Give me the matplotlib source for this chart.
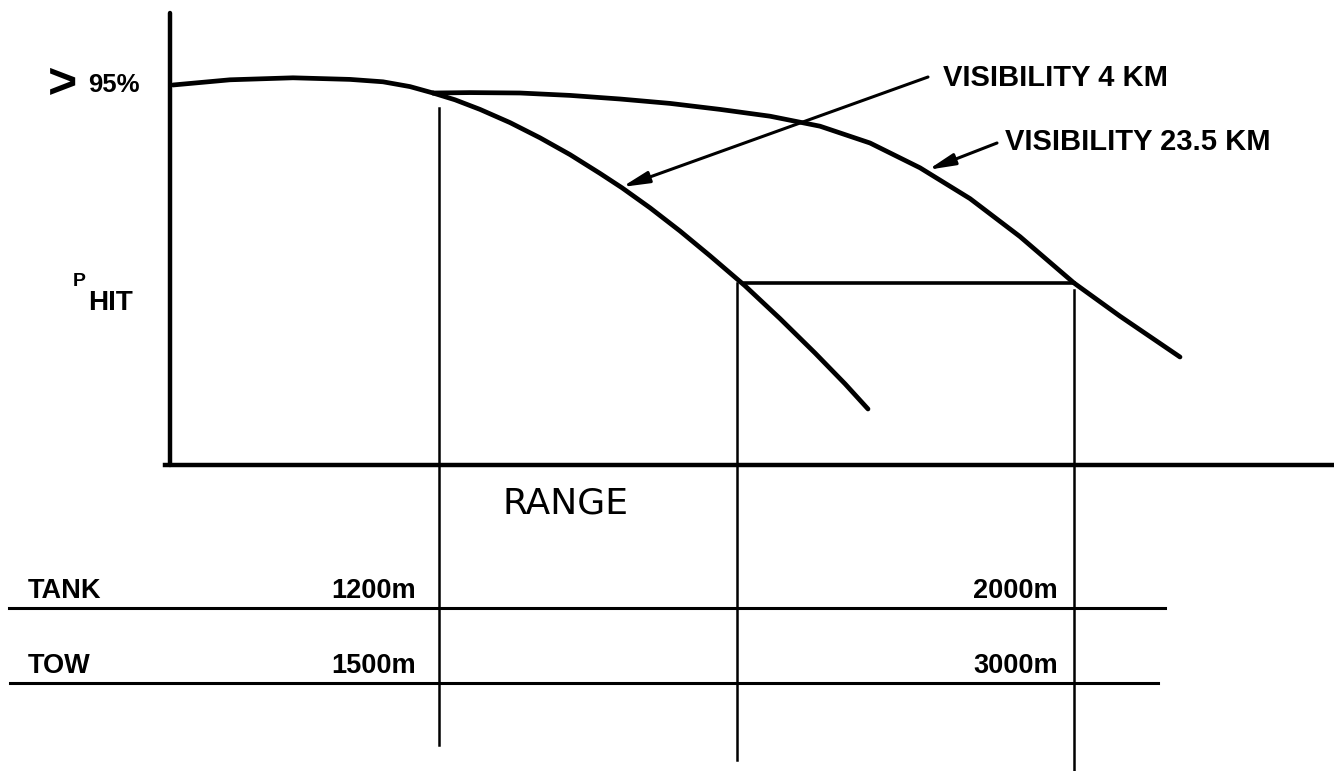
import numpy as np
import matplotlib.pyplot as plt

# -------------------------
# Daten (Reichweite in willkürlichen Einheiten, P_HIT in %)
# -------------------------

# gemeinsamer Anfang beider Kurven
shared_x = [0.03, 0.60, 1.23, 1.80, 2.13, 2.40, 2.63]
shared_y = [95.0, 96.3, 96.8, 96.4, 95.8, 94.6, 93.0]

# Sicht 4 km
vis4_x = [2.63, 2.85, 3.10, 3.40, 3.70, 4.00, 4.30, 4.52, 4.80, 5.10, 5.40, 5.75, 6.10, 6.45, 6.75, 6.98]
vis4_y = [93.0, 91.3, 88.9, 85.6, 81.8, 77.6, 72.9, 69.3, 64.3, 58.5, 52.3, 44.8, 36.6, 28.0, 20.3, 14.0]

# Sicht 23.5 km
vis23_x = [2.63, 3.00, 3.50, 4.00, 4.50, 5.00, 5.50, 6.00, 6.50, 7.00, 7.50, 8.00, 8.50, 9.04, 9.50, 10.10]
vis23_y = [93.0, 93.1, 93.0, 92.4, 91.5, 90.4, 88.9, 87.2, 84.7, 80.5, 74.3, 66.6, 57.1, 45.5, 37.2, 27.0]

p_hit_level = 45.5                  # waagerechte Linie bei P_HIT
range_marks = [2.69, 5.67, 9.04]    # senkrechte Linien
row_labels = ["TANK", "TOW"]
short_ranges = ["1200m", "1500m"]
long_ranges = ["2000m", "3000m"]

# -------------------------
# Zeichnung
# -------------------------

plt.rcParams["font.family"] = ["Liberation Sans", "DejaVu Sans"]

fig = plt.figure(figsize=(13.34, 7.71), dpi=100, facecolor="white")
ax = fig.add_axes([0, 0, 1, 1])
ax.set_xlim(-1.70, 11.64)
ax.set_ylim(-76.5, 116.25)
ax.axis("off")

ink = "black"
curve_style = dict(color=ink, lw=3.4, solid_capstyle="round", solid_joinstyle="round")

# Achsen
ax.plot([0, 0], [0, 113], color=ink, lw=3.2, solid_capstyle="round")
ax.plot([-0.05, 11.64], [0, 0], color=ink, lw=3.2)

# Kurven
ax.plot(shared_x, shared_y, **curve_style)
ax.plot(vis4_x, vis4_y, **curve_style)
ax.plot(vis23_x, vis23_y, **curve_style)

# Hilfslinien
ax.plot([5.75, range_marks[2]], [p_hit_level, p_hit_level], color=ink, lw=2.6)
ax.plot([range_marks[0], range_marks[0]], [89.2, -70.0], color=ink, lw=1.8)
ax.plot([range_marks[1], range_marks[1]], [p_hit_level, -73.8], color=ink, lw=1.8)
ax.plot([range_marks[2], range_marks[2]], [43.8, -76.5], color=ink, lw=1.8)

# Tabelle unten
row_y = [-35.8, -54.5]
ax.plot([-1.61, 9.95], [row_y[0], row_y[0]], color=ink, lw=2.2)
ax.plot([-1.60, 9.88], [row_y[1], row_y[1]], color=ink, lw=2.2)
for i in range(2):
    ax.text(-1.42, row_y[i] + 2.6, row_labels[i], fontsize=19.5, fontweight="bold", va="baseline")
    ax.text(2.46, row_y[i] + 2.6, short_ranges[i], fontsize=19.5, fontweight="bold", va="baseline", ha="right")
    ax.text(8.88, row_y[i] + 2.6, long_ranges[i], fontsize=19.5, fontweight="bold", va="baseline", ha="right")

# Beschriftungen
ax.text(3.95, -9.5, "RANGE", fontsize=26, family="DejaVu Sans", ha="center", va="center")
ax.text(-1.08, 95.0, ">", fontsize=36, fontweight="bold", ha="center", va="center")
ax.text(-0.82, 95.0, "95%", fontsize=18.5, fontweight="bold", ha="left", va="center")
ax.text(-0.97, 45.8, "P", fontsize=14, fontweight="bold", ha="left", va="center")
ax.text(-0.82, 40.6, "HIT", fontsize=20, fontweight="bold", ha="left", va="center")

# Pfeile
arrow = dict(arrowstyle="-|>,head_length=1.6,head_width=0.35", color=ink, lw=2.2, shrinkA=0, shrinkB=0)
ax.annotate("", xy=(4.52, 69.5), xytext=(7.58, 97.0), arrowprops=arrow)
ax.annotate("", xy=(7.58, 73.8), xytext=(8.27, 80.5), arrowprops=arrow)
ax.text(7.73, 96.8, "VISIBILITY 4 KM", fontsize=21, fontweight="bold", va="center")
ax.text(8.35, 80.8, "VISIBILITY 23.5 KM", fontsize=21, fontweight="bold", va="center")

plt.savefig("out.png", dpi=100, facecolor="white")
